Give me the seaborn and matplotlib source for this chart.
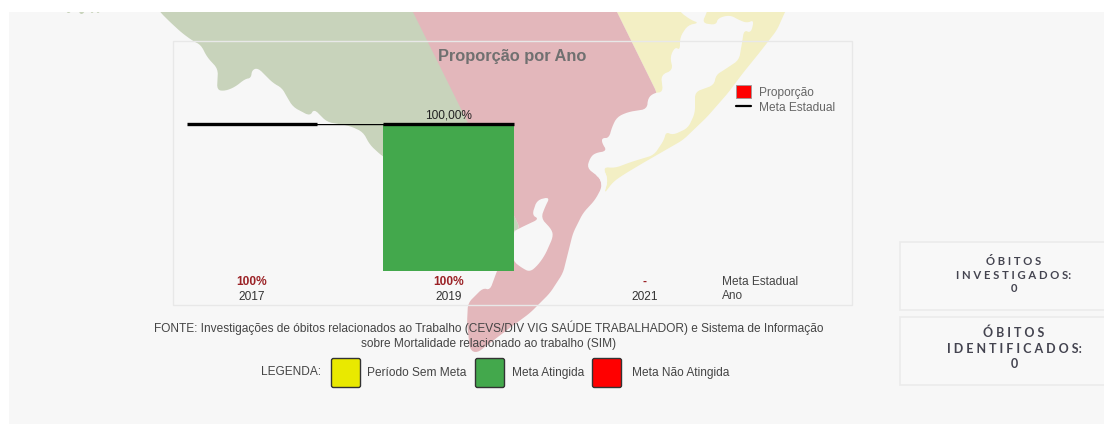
import matplotlib
matplotlib.use('Agg')
import matplotlib.pyplot as plt
from matplotlib.patches import Polygon, Rectangle, FancyBboxPatch
from matplotlib.lines import Line2D
import seaborn as sns
import pandas as pd
import numpy as np

# chart values
years = ['2017', '2019', '2021']
proporcao = [np.nan, 100, np.nan]
meta_estadual = [100, 100, np.nan]
bar_labels = ['', '100,00%', '']
table_labels = ['100%', '100%', '-']

# background map outlines, in picture pixels
map_green = [(155, 4), (413, 4), (416, 12), (520, 228), (513, 232), (382, 156), (370, 145), (363, 132), (350, 126),
             (327, 122), (314, 109), (310, 116), (293, 107), (287, 97), (282, 88), (273, 83), (258, 68),
             (252, 70), (251, 78), (245, 79), (235, 87), (225, 91), (217, 90), (218, 69), (207, 57),
             (201, 45), (193, 41), (182, 33), (170, 22), (160, 12)]
map_red = [(409, 4), (613, 4), (617, 12), (657, 93), (655, 98), (595, 175), (600, 178), (602, 187), (595, 200),
           (583, 213), (573, 233), (563, 273), (550, 293), (530, 313), (507, 330), (477, 353), (470, 350),
           (467, 323), (468, 303), (483, 288), (490, 290), (497, 271), (513, 232), (520, 228)]
map_yellow = [(613, 4), (789, 4), (785, 12), (777, 30), (760, 52), (743, 73), (728, 93), (707, 117), (683, 140),
              (643, 163), (623, 175), (613, 182), (604, 194), (608, 180), (603, 167), (655, 98), (657, 93)]
map_sea = [(654, 93), (663, 92), (661, 75), (673, 70), (670, 57), (675, 47), (680, 50), (680, 37), (688, 25),
           (699, 23), (691, 20), (680, 12), (677, 4), (709, 4), (707, 12), (702, 23), (716, 25), (718, 18), (730, 15), (739, 20),
           (747, 23), (754, 20), (751, 33), (744, 30), (742, 43), (739, 60), (724, 70), (716, 75), (714, 85),
           (695, 92), (695, 113), (688, 128), (673, 135), (666, 132), (664, 140), (654, 155), (631, 162),
           (615, 168), (603, 167), (608, 180), (604, 194), (602, 187), (600, 178), (587, 168), (590, 158),
           (595, 153), (607, 151), (602, 143), (602, 138), (609, 138), (612, 127), (617, 117), (628, 112),
           (647, 109), (648, 98)]
map_lagoon = [(513, 232), (520, 228), (539, 219), (532, 215), (537, 200), (550, 197), (545, 207), (541, 218),
              (552, 230), (553, 237), (545, 255), (538, 265), (530, 272), (522, 268), (513, 261)]
map_specks = [[(66, 9), (72, 9), (70, 13), (67, 13)], [(78, 9), (86, 9), (83, 14), (80, 14)],
              [(90, 9), (95, 9), (93, 13), (91, 13)], [(96, 9), (101, 9), (99, 13), (97, 13)]]


def soften(points, cut=3.0, rounds=2):
    # rounds the corners of a traced outline
    pts = np.array(points, dtype=float)
    for _ in range(rounds):
        nxt = np.roll(pts, -1, axis=0)
        d = nxt - pts
        length = np.hypot(d[:, 0], d[:, 1]).reshape(-1, 1)
        step = np.minimum(cut / length, 0.25) * d
        pts = np.column_stack([pts + step, nxt - step]).reshape(-1, 2)
        cut = cut / 2
    return pts


W, H = 1104, 424
bg_color = '#f7f7f7'
sns.set_theme(style='white')
plt.rcParams['font.family'] = ['Liberation Sans', 'DejaVu Sans']

fig = plt.figure(figsize=(W / 100, H / 100), dpi=100, facecolor='white')

# page layer in pixel coordinates
page = fig.add_axes([0, 0, 1, 1])
page.set_xlim(0, W)
page.set_ylim(H, 0)
page.axis('off')
panel = Rectangle((9, 12), W - 9, H - 12, fc=bg_color, ec='none')
page.add_patch(panel)
shapes = [(map_green, '#c8d3bb'), (map_yellow, '#f3efc4'), (map_red, '#e3b7bb'),
          (map_sea, bg_color), (map_lagoon, bg_color)]
shapes += [(s, '#c8d3bb') for s in map_specks]
for shape, col in shapes:
    p = Polygon(soften(shape), fc=col, ec='none')
    page.add_patch(p)
    p.set_clip_path(panel)
page.add_patch(Rectangle((172.5, 40.5), 679, 264, fc='none', ec='#e8e8e8', lw=1))

# chart
ax = fig.add_axes([153.75 / W, 1 - 271 / H, 589.5 / W, 147 / H])
ax.patch.set_alpha(0)
df = pd.DataFrame({'ano': years, 'proporcao': proporcao})
sns.barplot(data=df, x='ano', y='proporcao', color='#43a84c', saturation=1, width=2 / 3, linewidth=0, ax=ax)
pos = np.arange(len(years))
sns.lineplot(x=pos, y=meta_estadual, color='black', lw=1, ax=ax)
ax.hlines(meta_estadual, pos - 1 / 3, pos + 1 / 3, color='black', lw=2.4, clip_on=False, zorder=5)
ax.set_xlim(-0.5, 2.5)
ax.set_ylim(0, 100)
ax.set_xlabel('')
ax.set_ylabel('')
ax.set_yticks([])
ax.tick_params(axis='x', length=0, pad=14.7, labelsize=8.6, labelcolor='#333333')
for s in ax.spines.values():
    s.set_visible(False)
for i, lab in enumerate(bar_labels):
    if lab:
        ax.annotate(lab, (i, meta_estadual[i]), xytext=(0, 2), textcoords='offset points', ha='center',
                    va='bottom', fontsize=8.6, color='#222222')
for i, lab in enumerate(table_labels):
    ax.annotate(lab, (i, 0), xytext=(0, -8), textcoords='offset points', ha='center', va='center',
                fontsize=8.6, fontweight='bold', color='#9b2226', annotation_clip=False)

handles = [Rectangle((0, 0), 1, 1, fc='red', ec='#999999', lw=0.6),
           Line2D([0], [0], color='black', lw=1.6)]
leg = fig.legend(handles, ['Proporção', 'Meta Estadual'], loc='upper left',
                 bbox_to_anchor=(727.5 / W, 1 - 77 / H), frameon=False, fontsize=8.6,
                 handlelength=1.25, handleheight=1.25, handletextpad=0.72, labelspacing=0.2,
                 borderpad=0.2, labelcolor='#666666')

page.text(512, 57, 'Proporção por Ano', ha='center', va='center', fontsize=11.8, fontweight='bold', color='#707070')
page.text(722, 282, 'Meta Estadual', va='center', fontsize=8.6, color='#444444')
page.text(722, 296, 'Ano', va='center', fontsize=8.6, color='#444444')

# source note
page.text(489, 328, 'FONTE: Investigações de óbitos relacionados ao Trabalho (CEVS/DIV VIG SAÚDE TRABALHADOR) e Sistema de Informação',
          ha='center', va='center', fontsize=8.55, color='#444444')
page.text(489, 343.5, 'sobre Mortalidade relacionado ao trabalho (SIM)', ha='center', va='center', fontsize=8.55, color='#444444')

# colour key
page.text(261, 372, 'LEGENDA:', va='center', fontsize=8.6, color='#444444')
key_labels = ['Período Sem Meta', 'Meta Atingida', 'Meta Não Atingida']
key_colors = ['#e9e900', '#43a84c', '#ff0000']
key_box_x = [331, 475, 592]
key_text_x = [367, 512, 632]
for lab, col, bx, tx in zip(key_labels, key_colors, key_box_x, key_text_x):
    page.add_patch(FancyBboxPatch((bx + 0.5, 358.5), 29, 29, boxstyle='round,pad=0,rounding_size=2', fc=col, ec='#333333', lw=1))
    page.text(tx, 373, lab, va='center', fontsize=8.6, color='#444444')

# side cards
cards = [(241, 'Ó B I T O S', 'I N V E S T I G A D O S:', '0', (261.5, 275.5, 288.5), 8.1),
         (316, 'Ó B I T O S', 'I D E N T I F I C A D O S:', '0', (333, 349, 364), 9.0)]
for top, l1, l2, val, ys, fs in cards:
    page.add_patch(Rectangle((899.5, top + 0.5), 210, 68, fc='#f8f8f8', ec='#ebebeb', lw=1.2))
    for txt, y in zip((l1, l2, val), ys):
        page.text(1014, y, txt, ha='center', va='center', fontsize=fs, fontweight='bold', color='#444450', family='Lato')

fig.savefig('out.png', dpi=100, facecolor='white')
